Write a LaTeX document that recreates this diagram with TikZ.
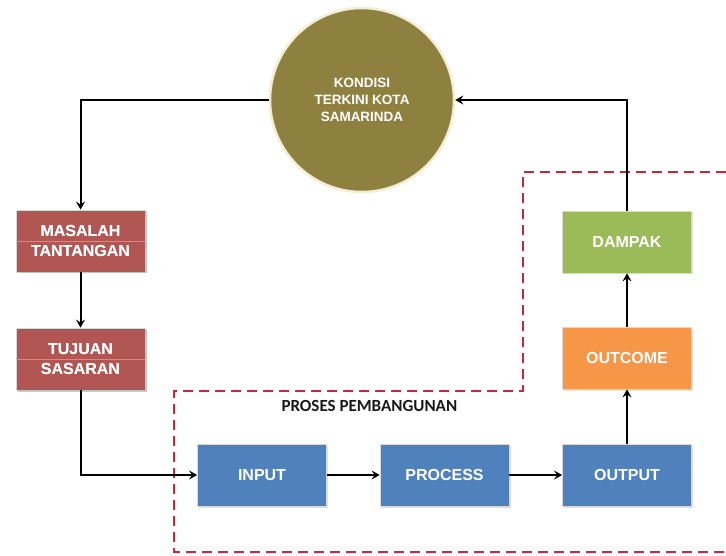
\documentclass[tikz,border=0pt]{standalone}
\usepackage{fontspec}
\setmainfont{Liberation Sans}
\newfontfamily\labelfont{Carlito}
\usetikzlibrary{arrows.meta}
\usetikzlibrary{shadows}
\definecolor{boxred}{HTML}{C24845}
\definecolor{boxblue}{HTML}{4F81BD}
\definecolor{boxorange}{HTML}{F79646}
\definecolor{boxgreen}{HTML}{9BBB59}
\definecolor{olive}{HTML}{8E8140}
\definecolor{rimcream}{HTML}{F2EDD5}
\definecolor{dashred}{HTML}{C8283A}
\tikzstyle{stage}=[draw=white!85!black, line width=0.8pt, minimum width=129pt, minimum height=62pt,
                   inner sep=0, text=white, align=center,
                   font=\fontsize{16}{20}\selectfont\bfseries,
                   drop shadow={shadow xshift=1.5pt, shadow yshift=-1.5pt, opacity=0.25}]
\tikzstyle{redstage}=[stage, fill=boxred]
\tikzstyle{bluestage}=[stage, fill=boxblue]
\tikzstyle{flow}=[line width=2pt, -{Stealth[length=8pt, width=9pt, inset=3pt]}]
\tikzstyle{region}=[dashred, line width=2.8pt, dash pattern=on 10pt off 6pt]

\begin{document}
\begin{tikzpicture}[x=1pt, y=-1pt]
    % Fixed canvas of the reference.
    \useasboundingbox (0, 0) rectangle (726, 556);
    % Dashed border of the development process.
    \draw[region] (726, 172) -- (523, 172) -- (523, 391) -- (174, 391) -- (174, 552) -- (726, 552);
    \node[font=\labelfont\fontsize{17}{18}\selectfont\bfseries, text=black!90, anchor=west] (proses) at (278, 406) {PROSES PEMBANGUNAN};
    % Current state of the city.
    \node[circle, fill=olive, draw=rimcream, line width=2.5pt, minimum size=184pt, inner sep=0,
          text=white, align=center, font=\fontsize{13.5}{17}\selectfont\bfseries] (kondisi) at (362, 100)
          {KONDISI\\TERKINI KOTA\\SAMARINDA};
    % Left column.
    \node[redstage] (masalah) at (80.5, 241) {MASALAH\\TANTANGAN};
    \node[redstage] (tujuan) at (80.5, 359) {TUJUAN\\SASARAN};
    \draw[boxorange, line width=0.8pt] (masalah.west) -- (masalah.east);
    \draw[boxorange, line width=0.8pt] (tujuan.west) -- (tujuan.east);
    \node[redstage, fill=none, draw=none, drop shadow={opacity=0}] at (masalah) {MASALAH\\TANTANGAN};
    \node[redstage, fill=none, draw=none, drop shadow={opacity=0}] at (tujuan) {TUJUAN\\SASARAN};
    % Process row.
    \node[bluestage] (input) at (262, 475) {INPUT};
    \node[bluestage] (process) at (444.5, 475) {PROCESS};
    \node[bluestage] (output) at (627, 475) {OUTPUT};
    % Results column.
    \node[stage, fill=boxorange] (outcome) at (627, 358) {OUTCOME};
    \node[stage, fill=boxgreen] (dampak) at (627, 242) {DAMPAK};
    % Connectors.
    \draw[flow] (kondisi.west) -| (masalah.north);
    \draw[flow] (masalah.south) -- (tujuan.north);
    \draw[flow] (tujuan.south) |- (input.west);
    \draw[flow] (input.east) -- (process.west);
    \draw[flow] (process.east) -- (output.west);
    \draw[flow] (output.north) -- (outcome.south);
    \draw[flow] (outcome.north) -- (dampak.south);
    \draw[flow] (dampak.north) |- (kondisi.east);
\end{tikzpicture}
\end{document}
